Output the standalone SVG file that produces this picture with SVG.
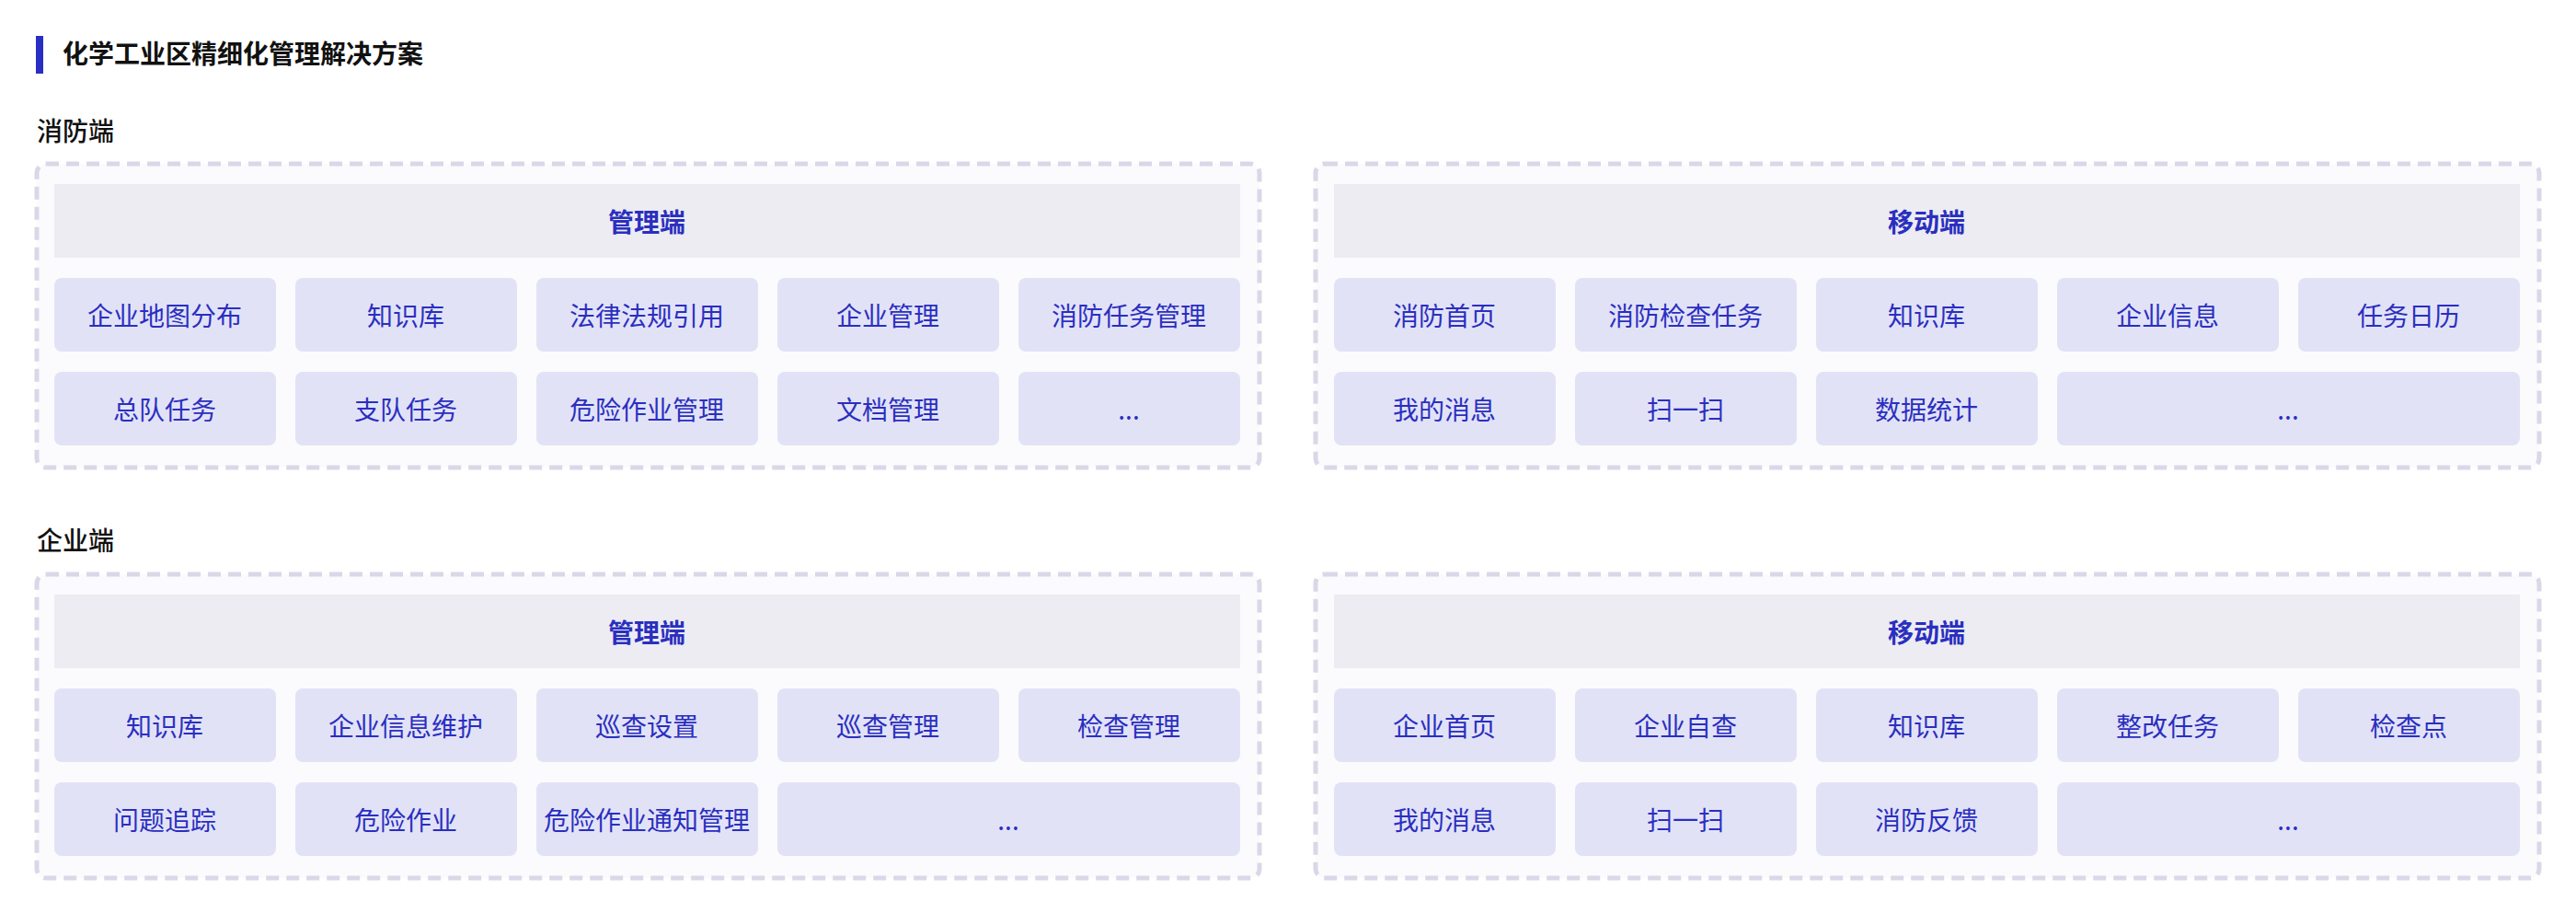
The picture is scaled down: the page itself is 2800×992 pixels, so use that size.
<svg xmlns="http://www.w3.org/2000/svg" width="2800" height="992" viewBox="0 0 2800 992">
<style>
text{font-family:"Noto Sans CJK SC","Noto Sans",sans-serif}
.t{font-size:28px;font-weight:700;fill:#111}
.s{font-size:28px;font-weight:500;fill:#111}
.box{fill:#fbfbfd;stroke:#d9d8e8;stroke-width:5;stroke-dasharray:14 8}
.hd{fill:#ececf2}
.hdt{font-size:28px;font-weight:700;fill:#2a2fbf;text-anchor:middle;dominant-baseline:central}
.c{fill:#e2e2f7}
.ct{font-size:28px;fill:#2a2fbf;text-anchor:middle;dominant-baseline:central}
</style>
<rect width="2800" height="992" fill="#fff"/>
<rect x="39" y="39" width="8" height="41" fill="#2a2fc4"/>
<text class="t" x="68" y="69">化学工业区精细化管理解决方案</text>
<text class="s" x="40" y="153">消防端</text>
<text class="s" x="40" y="598">企业端</text>
<defs>
<g id="x"/>
</defs>
<g id="fire-admin">
<rect class="box" x="40" y="178" width="1329" height="330" rx="10"/>
<rect class="hd" x="59" y="200" width="1289" height="80"/>
<text class="hdt" x="703" y="240">管理端</text>
<rect class="c" x="59" y="302" width="241" height="80" rx="8"/><text class="ct" x="179" y="342">企业地图分布</text>
<rect class="c" x="321" y="302" width="241" height="80" rx="8"/><text class="ct" x="441" y="342">知识库</text>
<rect class="c" x="583" y="302" width="241" height="80" rx="8"/><text class="ct" x="703" y="342">法律法规引用</text>
<rect class="c" x="845" y="302" width="241" height="80" rx="8"/><text class="ct" x="965" y="342">企业管理</text>
<rect class="c" x="1107" y="302" width="241" height="80" rx="8"/><text class="ct" x="1227" y="342">消防任务管理</text>
<rect class="c" x="59" y="404" width="241" height="80" rx="8"/><text class="ct" x="179" y="444">总队任务</text>
<rect class="c" x="321" y="404" width="241" height="80" rx="8"/><text class="ct" x="441" y="444">支队任务</text>
<rect class="c" x="583" y="404" width="241" height="80" rx="8"/><text class="ct" x="703" y="444">危险作业管理</text>
<rect class="c" x="845" y="404" width="241" height="80" rx="8"/><text class="ct" x="965" y="444">文档管理</text>
<rect class="c" x="1107" y="404" width="241" height="80" rx="8"/><text class="ct" x="1227" y="444">...</text>
</g>
<g id="fire-mobile">
<rect class="box" x="1430" y="178" width="1330" height="330" rx="10"/>
<rect class="hd" x="1450" y="200" width="1289" height="80"/>
<text class="hdt" x="2094" y="240">移动端</text>
<rect class="c" x="1450" y="302" width="241" height="80" rx="8"/><text class="ct" x="1570" y="342">消防首页</text>
<rect class="c" x="1712" y="302" width="241" height="80" rx="8"/><text class="ct" x="1832" y="342">消防检查任务</text>
<rect class="c" x="1974" y="302" width="241" height="80" rx="8"/><text class="ct" x="2094" y="342">知识库</text>
<rect class="c" x="2236" y="302" width="241" height="80" rx="8"/><text class="ct" x="2356" y="342">企业信息</text>
<rect class="c" x="2498" y="302" width="241" height="80" rx="8"/><text class="ct" x="2618" y="342">任务日历</text>
<rect class="c" x="1450" y="404" width="241" height="80" rx="8"/><text class="ct" x="1570" y="444">我的消息</text>
<rect class="c" x="1712" y="404" width="241" height="80" rx="8"/><text class="ct" x="1832" y="444">扫一扫</text>
<rect class="c" x="1974" y="404" width="241" height="80" rx="8"/><text class="ct" x="2094" y="444">数据统计</text>
<rect class="c" x="2236" y="404" width="503" height="80" rx="8"/><text class="ct" x="2487" y="444">...</text>
</g>
<g id="ent-admin">
<rect class="box" x="40" y="624" width="1329" height="330" rx="10"/>
<rect class="hd" x="59" y="646" width="1289" height="80"/>
<text class="hdt" x="703" y="686">管理端</text>
<rect class="c" x="59" y="748" width="241" height="80" rx="8"/><text class="ct" x="179" y="788">知识库</text>
<rect class="c" x="321" y="748" width="241" height="80" rx="8"/><text class="ct" x="441" y="788">企业信息维护</text>
<rect class="c" x="583" y="748" width="241" height="80" rx="8"/><text class="ct" x="703" y="788">巡查设置</text>
<rect class="c" x="845" y="748" width="241" height="80" rx="8"/><text class="ct" x="965" y="788">巡查管理</text>
<rect class="c" x="1107" y="748" width="241" height="80" rx="8"/><text class="ct" x="1227" y="788">检查管理</text>
<rect class="c" x="59" y="850" width="241" height="80" rx="8"/><text class="ct" x="179" y="890">问题追踪</text>
<rect class="c" x="321" y="850" width="241" height="80" rx="8"/><text class="ct" x="441" y="890">危险作业</text>
<rect class="c" x="583" y="850" width="241" height="80" rx="8"/><text class="ct" x="703" y="890">危险作业通知管理</text>
<rect class="c" x="845" y="850" width="503" height="80" rx="8"/><text class="ct" x="1096" y="890">...</text>
</g>
<g id="ent-mobile">
<rect class="box" x="1430" y="624" width="1330" height="330" rx="10"/>
<rect class="hd" x="1450" y="646" width="1289" height="80"/>
<text class="hdt" x="2094" y="686">移动端</text>
<rect class="c" x="1450" y="748" width="241" height="80" rx="8"/><text class="ct" x="1570" y="788">企业首页</text>
<rect class="c" x="1712" y="748" width="241" height="80" rx="8"/><text class="ct" x="1832" y="788">企业自查</text>
<rect class="c" x="1974" y="748" width="241" height="80" rx="8"/><text class="ct" x="2094" y="788">知识库</text>
<rect class="c" x="2236" y="748" width="241" height="80" rx="8"/><text class="ct" x="2356" y="788">整改任务</text>
<rect class="c" x="2498" y="748" width="241" height="80" rx="8"/><text class="ct" x="2618" y="788">检查点</text>
<rect class="c" x="1450" y="850" width="241" height="80" rx="8"/><text class="ct" x="1570" y="890">我的消息</text>
<rect class="c" x="1712" y="850" width="241" height="80" rx="8"/><text class="ct" x="1832" y="890">扫一扫</text>
<rect class="c" x="1974" y="850" width="241" height="80" rx="8"/><text class="ct" x="2094" y="890">消防反馈</text>
<rect class="c" x="2236" y="850" width="503" height="80" rx="8"/><text class="ct" x="2487" y="890">...</text>
</g>
<g id="connectors"/>
</svg>
